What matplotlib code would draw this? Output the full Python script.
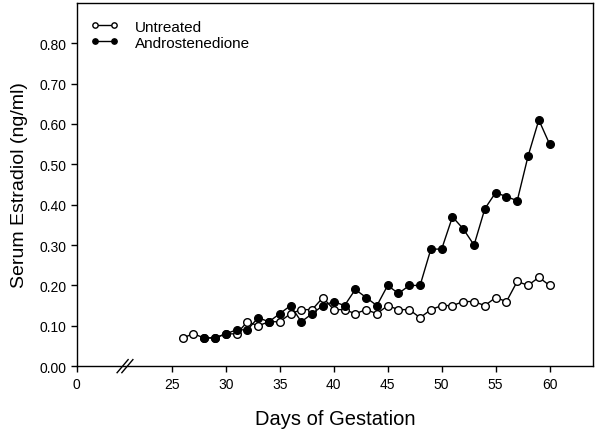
import numpy as np
import matplotlib
matplotlib.use("Agg")
import matplotlib.pyplot as plt
from matplotlib.transforms import blended_transform_factory

plt.rcParams['font.family'] = ['Liberation Sans', 'DejaVu Sans']

DAYS_UNTREATED = list(range(26, 61))
UNTREATED = [0.07, 0.08, 0.07, 0.07, 0.08, 0.08, 0.11, 0.10, 0.11, 0.11,
             0.13, 0.14, 0.14, 0.17, 0.14, 0.14, 0.13, 0.14, 0.13, 0.15,
             0.14, 0.14, 0.12, 0.14, 0.15, 0.15, 0.16, 0.16, 0.15, 0.17,
             0.16, 0.21, 0.20, 0.22, 0.20]

DAYS_ANDRO = list(range(28, 61))
ANDRO = [0.07, 0.07, 0.08, 0.09, 0.09, 0.12, 0.11, 0.13, 0.15, 0.11,
         0.13, 0.15, 0.16, 0.15, 0.19, 0.17, 0.15, 0.20, 0.18, 0.20,
         0.20, 0.29, 0.29, 0.37, 0.34, 0.30, 0.39, 0.43, 0.42, 0.41,
         0.52, 0.61, 0.55]

X_TICKS = [0, 25, 30, 35, 40, 45, 50, 55, 60]
Y_TICKS = [0.0, 0.1, 0.2, 0.3, 0.4, 0.5, 0.6, 0.7, 0.8]

# broken x axis: 0..BRK squeezed into a short stub
BRK = 20.6
START = 16.2


def fwd(x):
    x = np.asarray(x, dtype=float)
    return np.where(x >= BRK, x, START + x * (BRK - START) / BRK)


def inv(y):
    y = np.asarray(y, dtype=float)
    return np.where(y >= BRK, y, (y - START) * BRK / (BRK - START))


fig = plt.figure(figsize=(6.0, 4.35), dpi=100)
ax = fig.add_axes([0.128, 0.156, 0.86, 0.835])
ax.set_xscale('function', functions=(fwd, inv))

ax.plot(DAYS_UNTREATED, UNTREATED, '-o', color='black', lw=1,
        markerfacecolor='white', markeredgecolor='black', markersize=5.5,
        markeredgewidth=1, label='Untreated', zorder=3)
ax.plot(DAYS_ANDRO, ANDRO, '-o', color='black', lw=1,
        markerfacecolor='black', markeredgecolor='black', markersize=5.5,
        label='Androstenedione', zorder=4)

ax.set_xlim(0, 64)
ax.set_ylim(0, 0.9)
ax.set_xticks(X_TICKS)
ax.set_xticklabels([str(t) for t in X_TICKS])
ax.set_yticks(Y_TICKS)
ax.set_yticklabels(['%.2f' % t for t in Y_TICKS])
ax.tick_params(direction='out', length=4, width=1, labelsize=10,
               top=False, right=False)
for s in ax.spines.values():
    s.set_linewidth(1)

ax.set_xlabel('Days of Gestation', fontsize=14.5, labelpad=13)
ax.set_ylabel('Serum Estradiol (ng/ml)', fontsize=14, labelpad=8)

# break marks on the x axis
tr = blended_transform_factory(ax.transAxes, ax.transAxes)
for cx in (0.0888, 0.098):
    ax.plot([cx - 0.0107, cx + 0.0107], [-0.018, 0.018], color='black',
            lw=1, transform=tr, clip_on=False)

ax.legend(loc='upper left', bbox_to_anchor=(0.006, 0.983), frameon=False,
          fontsize=11, markerscale=0.7, numpoints=2, handlelength=1.84,
          handletextpad=1.07, borderaxespad=0.3, labelspacing=0.13)

fig.savefig('out.png', dpi=100)
